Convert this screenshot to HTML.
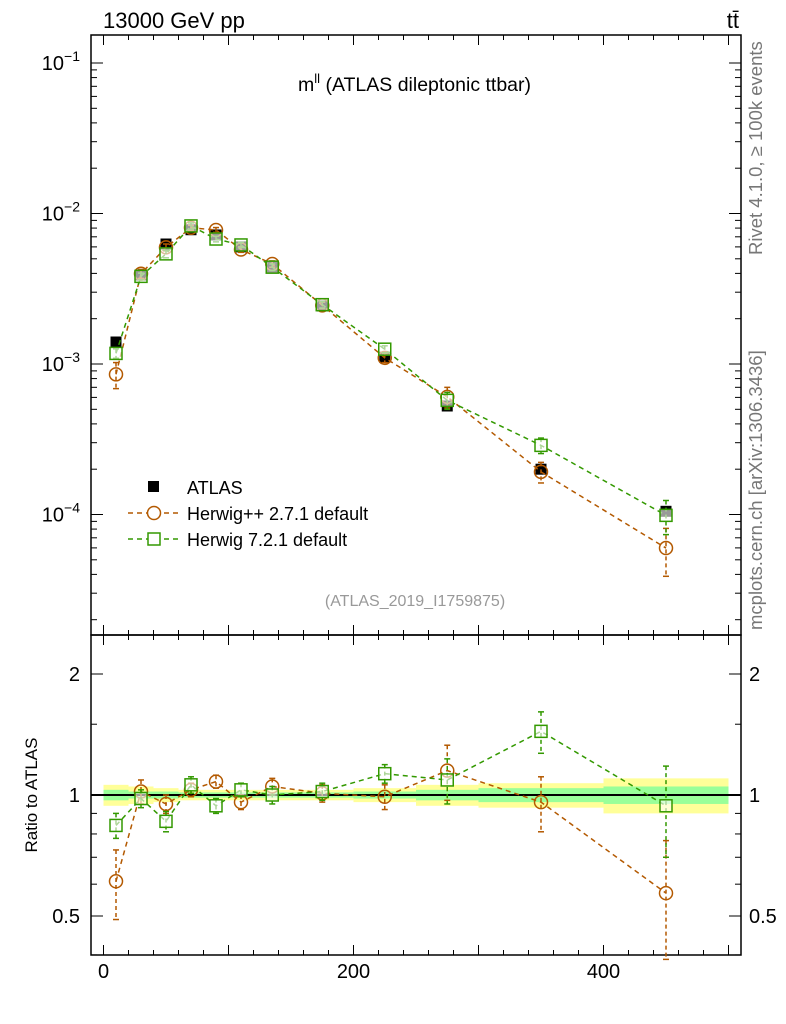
<!DOCTYPE html>
<html><head><meta charset="utf-8"><style>
body{margin:0;background:#fff;}
svg{display:block;font-family:"Liberation Sans",sans-serif;}
</style></head><body>
<svg id="c" width="786" height="1024" viewBox="0 0 786 1024"></svg>
<script>
const binLo=[0,20,40,60,80,100,120,150,200,250,300,400];
const binHi=[20,40,60,80,100,120,150,200,250,300,400,500];
const centers=[10,30,50,70,90,110,135,175,225,275,350,450];
const atlas=[1.4e-3,3.9e-3,6.27e-3,7.8e-3,7.2e-3,6.0e-3,4.4e-3,2.43e-3,1.11e-3,5.26e-4,2.0e-4,1.05e-4];
const ratioHpp=[0.61,1.02,0.95,1.03,1.08,0.96,1.05,1.01,0.99,1.15,0.96,0.57];
const errHpp=[0.12,0.07,0.05,0.04,0.04,0.04,0.05,0.05,0.07,0.18,0.15,0.2];
const ratioH7=[0.84,0.98,0.86,1.06,0.94,1.03,1.00,1.02,1.13,1.09,1.44,0.94];
const errH7=[0.06,0.05,0.05,0.05,0.04,0.04,0.05,0.05,0.06,0.14,0.17,0.24];
const bandYellow=[0.06,0.05,0.04,0.03,0.03,0.03,0.03,0.03,0.04,0.06,0.07,0.1];
const bandGreen=[0.03,0.02,0.02,0.015,0.015,0.015,0.015,0.015,0.02,0.03,0.04,0.05];
const yTickLabels=["10","10","10","10"];const yTickExp=[-1,-2,-3,-4];
const rTicks=[0.5,1,2];const xTicks=[0,200,400];

const svg=document.getElementById('c');const NS='http://www.w3.org/2000/svg';
function el(t,a,p){const e=document.createElementNS(NS,t);for(const k in a)e.setAttribute(k,a[k]);(p||svg).appendChild(e);return e;}
const L=91,R=741,T=35,M=635,B=955;
const X=v=>L+(v+10)*650/520;
const Y=v=>63+(-1-Math.log10(v))*150.5;
const RY=v=>795-121*Math.log2(v);
const C1='#b35900',C2='#339900';
const gb=el('g',{});
binLo.forEach((lo,i)=>{
 el('rect',{x:X(lo),y:RY(1+bandYellow[i]),width:X(binHi[i])-X(lo),height:RY(1-bandYellow[i])-RY(1+bandYellow[i]),fill:'#ffff99'},gb);
 el('rect',{x:X(lo),y:RY(1+bandGreen[i]),width:X(binHi[i])-X(lo),height:RY(1-bandGreen[i])-RY(1+bandGreen[i]),fill:'#99ff99'},gb);
});
el('line',{x1:L,x2:R,y1:RY(1),y2:RY(1),stroke:'#000','stroke-width':2});
el('rect',{x:L,y:T,width:R-L,height:M-T,fill:'none',stroke:'#000','stroke-width':1.5});
el('rect',{x:L,y:M,width:R-L,height:B-M,fill:'none',stroke:'#000','stroke-width':1.5});
for(let v=0;v<=500;v+=20){const maj=v%100==0;const l=maj?10:5;const x=X(v);
 [[M,-1],[T,1],[B,-1],[M,1]].forEach(([y0,d])=>el('line',{x1:x,x2:x,y1:y0,y2:y0+d*l,stroke:'#000'}));}
xTicks.forEach(v=>{const t=el('text',{x:X(v),y:978,'font-size':20,'text-anchor':'middle'});t.textContent=v;
 });
for(let e=-5;e<=-1;e++)for(let m=1;m<=9;m++){const v=m*Math.pow(10,e);const y=Y(v);if(y<T||y>M)continue;const l=m==1?12:6;
 el('line',{x1:L,x2:L+l,y1:y,y2:y,stroke:'#000'});el('line',{x1:R,x2:R-l,y1:y,y2:y,stroke:'#000'});}
yTickExp.forEach((e,i)=>{const t=el('text',{x:80,y:Y(Math.pow(10,e))+7,'font-size':20,'text-anchor':'end'});
 
 t.innerHTML=yTickLabels[i]+'<tspan dy="-9" font-size="14">−'+(-e)+'</tspan>';});
[0.4,0.5,0.6,0.7,0.8,0.9,1,1.5,2].forEach(v=>{const y=RY(v);const l=(v==0.5||v==1||v==2)?12:6;
 el('line',{x1:L,x2:L+l,y1:y,y2:y,stroke:'#000'});el('line',{x1:R,x2:R-l,y1:y,y2:y,stroke:'#000'});});
rTicks.forEach(v=>{[[80,'end'],[749,'start']].forEach(([x,a])=>{const t=el('text',{x:x,y:RY(v)+7,'font-size':20,'text-anchor':a});t.textContent=v;
 });});
function series(vals,errs,color,sq,name,ratio){
 const g=el('g',{});
 const yf=ratio?RY:Y;
 const pts=centers.map((c,i)=>[X(c),yf(vals[i])]);
 el('polyline',{points:pts.map(p=>p.join(',')).join(' '),fill:'none',stroke:color,'stroke-width':1.5,'stroke-dasharray':'5,4'},g);
 centers.forEach((c,i)=>{const v=vals[i];
  const hi=ratio?v+errs[i]:v*(1+errs[i]);
  const lo=ratio?Math.max(v-errs[i],0.39):v*(1-errs[i]);
  const x=X(c);el('line',{x1:x,x2:x,y1:yf(hi),y2:yf(lo),stroke:color,'stroke-width':1.5,'stroke-dasharray':'4,3'},g);
  [hi,lo].forEach(q=>el('line',{x1:x-3,x2:x+3,y1:yf(q),y2:yf(q),stroke:color,'stroke-width':1.5},g));
  const y=yf(v);
  if(sq)el('rect',{x:x-6,y:y-6,width:12,height:12,fill:'#fff','fill-opacity':0.6,stroke:color,'stroke-width':1.5},g);
  else el('circle',{cx:x,cy:y,r:6.5,fill:'none',stroke:color,'stroke-width':1.5},g);});
}
const ga=el('g',{});
centers.forEach((c,i)=>{el('rect',{x:X(c)-5.5,y:Y(atlas[i])-5.5,width:11,height:11,fill:'#000'},ga);
 el('line',{x1:X(c),x2:X(c),y1:Y(atlas[i]*1.05),y2:Y(atlas[i]*0.95),stroke:'#000'},ga);});
series(atlas.map((a,i)=>a*ratioHpp[i]),errHpp.map((e,i)=>e/ratioHpp[i]),C1,false,'herwigpp-series',false);
series(atlas.map((a,i)=>a*ratioH7[i]),errH7.map((e,i)=>e/ratioH7[i]),C2,true,'herwig7-series',false);
series(ratioHpp,errHpp,C1,false,'herwigpp-ratio',true);
series(ratioH7,errH7,C2,true,'herwig7-ratio',true);
function txt(x,y,s,fs,attrs,name){const t=el('text',Object.assign({x:x,y:y,'font-size':fs},attrs||{}));t.innerHTML=s;
 return t;}
txt(103,28,'13000 GeV pp',22,{},'title-left');
txt(739,28,'tt̄',22,{'text-anchor':'end'},'title-right');
txt(298,91,'m<tspan dy="-8" font-size="13">ll</tspan><tspan dy="8"> (ATLAS dileptonic ttbar)</tspan>',19.5,{},'plot-title');
txt(415,606,'(ATLAS_2019_I1759875)',16,{fill:'#999','text-anchor':'middle'},'analysis-id');
txt(0,0,'Rivet 4.1.0, ≥ 100k events',18.5,{fill:'#777',transform:'translate(762,255) rotate(-90)'},'rivet-label');
txt(0,0,'mcplots.cern.ch [arXiv:1306.3436]',18.5,{fill:'#777',transform:'translate(762,630) rotate(-90)'},'mcplots-label');
txt(0,0,'Ratio to ATLAS',17,{'text-anchor':'middle',transform:'translate(37,795) rotate(-90)'},'y-axis-title');
el('rect',{x:148,y:481,width:11,height:11,fill:'#000'});
txt(187,494,'ATLAS',18,{},'legend-atlas');
el('line',{x1:128,x2:180,y1:513,y2:513,stroke:C1,'stroke-width':1.5,'stroke-dasharray':'5,4'});
el('circle',{cx:154,cy:513,r:6.5,fill:'#fff',stroke:C1,'stroke-width':1.5});
txt(187,520,'Herwig++ 2.7.1 default',18,{},'legend-herwigpp');
el('line',{x1:128,x2:180,y1:539,y2:539,stroke:C2,'stroke-width':1.5,'stroke-dasharray':'5,4'});
el('rect',{x:148,y:533,width:12,height:12,fill:'#fff',stroke:C2,'stroke-width':1.5});
txt(187,546,'Herwig 7.2.1 default',18,{},'legend-herwig7');
</script>
</body></html>
